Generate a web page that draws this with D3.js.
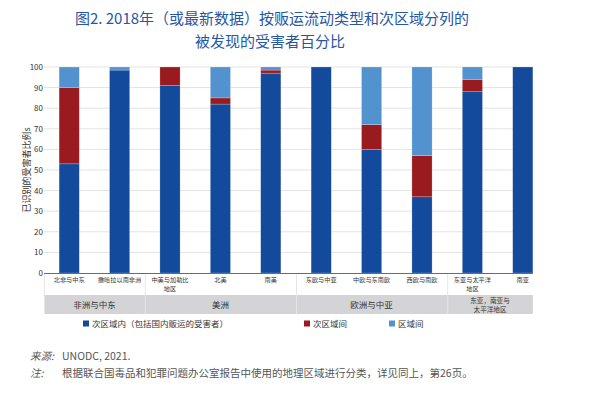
<!DOCTYPE html>
<html>
<head>
<meta charset="utf-8">
<script src="https://cdn.jsdelivr.net/npm/d3@7"></script>
<style>
  body { margin: 0; background: #fff; }
  svg { font-family: "Noto Sans CJK SC", "Noto Sans", sans-serif; }
</style>
</head>
<body>
<main></main>
<script>
const width = 600;
const height = 393;

// values (percent of detected victims)
const categories = ['北非与中东', '撒哈拉以南非洲', '中美与加勒比\n地区', '北美', '南美',
                    '东欧与中亚', '中欧与东南欧', '西欧与南欧', '东亚与太平洋\n地区', '南亚'];
const intraSub = [53, 98.5, 91, 82, 97, 100, 60, 37, 88, 100];
const interSub = [37, 0, 9, 3, 1.5, 0, 12, 20, 6, 0];
const interReg = [10, 1.5, 0, 15, 1.5, 0, 28, 43, 6, 0];
const groups = [
  {name: '非洲与中东', from: 0, to: 1},
  {name: '美洲', from: 2, to: 4},
  {name: '欧洲与中亚', from: 5, to: 7},
  {name: '东亚，南亚与\n太平洋地区', from: 8, to: 9}
];
const seriesKeys = ['intraSub', 'interSub', 'interReg'];
const seriesNames = ['次区域内（包括国内贩运的受害者）', '次区域间', '区域间'];
const seriesColors = ['#134a9c', '#9a1b1f', '#5192cf'];
const yTicks = d3.range(0, 101, 10);

const rows = categories.map((c, i) => ({cat: c, intraSub: intraSub[i], interSub: interSub[i], interReg: interReg[i]}));

const svg = d3.select('main').append('svg')
  .attr('width', width)
  .attr('height', height);

// title
const title = svg.append('g').attr('fill', '#2757a3').attr('font-size', 15).attr('text-anchor', 'middle');
title.append('text').attr('x', 272).attr('y', 24).text('图2. 2018年（或最新数据）按贩运流动类型和次区域分列的');
title.append('text').attr('x', 270).attr('y', 47).text('被发现的受害者百分比');

const x = d3.scaleBand()
  .domain(categories)
  .range([44, 548])
  .paddingInner(0.6)
  .paddingOuter(0.3);

const y = d3.scaleLinear().domain([0, 100]).range([273, 67]);

const left = 44;
const right = x(categories[categories.length - 1]) + x.bandwidth();

// grid
svg.append('g').selectAll('line')
  .data(yTicks.filter(d => d > 0))
  .join('line')
  .attr('x1', left).attr('x2', right)
  .attr('y1', d => y(d)).attr('y2', d => y(d))
  .attr('stroke', '#e3e3e3').attr('stroke-width', 1);

// y tick labels
svg.append('g').selectAll('text')
  .data(yTicks)
  .join('text')
  .attr('x', 43).attr('y', d => y(d) + 3)
  .attr('text-anchor', 'end')
  .attr('font-size', 8)
  .attr('fill', '#333')
  .text(d => d);

// y title
svg.append('text')
  .attr('transform', `translate(30, ${(y(0) + y(100)) / 2}) rotate(-90)`)
  .attr('text-anchor', 'middle')
  .attr('font-size', 9)
  .attr('fill', '#333')
  .text('已识别的受害者比例s');

// bars
const stacked = d3.stack().keys(seriesKeys)(rows);
svg.append('g').selectAll('g')
  .data(stacked)
  .join('g')
  .attr('fill', (d, i) => seriesColors[i])
  .selectAll('rect')
  .data(d => d)
  .join('rect')
  .attr('x', d => x(d.data.cat))
  .attr('width', x.bandwidth())
  .attr('y', d => y(d[1]))
  .attr('height', d => y(d[0]) - y(d[1]))
  .attr('stroke', '#ffffff')
  .attr('stroke-opacity', 0.35)
  .attr('stroke-width', 0.6);

// category label row and group band
const rowTop = 273, rowBottom = 295, bandBottom = 314;
const step = x.step();
const edge = i => i === 0 ? left : (i >= categories.length ? right : left + i * step);

svg.append('rect')
  .attr('x', left).attr('y', rowBottom)
  .attr('width', right - left).attr('height', bandBottom - rowBottom)
  .attr('fill', '#d4d4d6');

const seps = [0].concat(groups.slice(1).map(g => g.from));
svg.append('g').selectAll('line')
  .data(seps)
  .join('line')
  .attr('x1', d => edge(d) + 0.5).attr('x2', d => edge(d) + 0.5)
  .attr('y1', rowTop).attr('y2', bandBottom)
  .attr('stroke', '#e6e6e6').attr('stroke-width', 1);

svg.append('line')
  .attr('x1', left).attr('x2', right)
  .attr('y1', y(0) + 0.5).attr('y2', y(0) + 0.5)
  .attr('stroke', '#6b6b6b').attr('stroke-width', 1);

svg.append('g').selectAll('text')
  .data(categories)
  .join('text')
  .attr('text-anchor', 'middle')
  .attr('font-size', 6.2)
  .attr('fill', '#333')
  .each(function(d) {
    const cx = x(d) + x.bandwidth() / 2;
    d3.select(this).selectAll('tspan')
      .data(d.split('\n'))
      .join('tspan')
      .attr('x', cx)
      .attr('y', (t, i) => 282 + i * 9.2)
      .text(t => t);
  });

svg.append('g').selectAll('text')
  .data(groups)
  .join('text')
  .attr('text-anchor', 'middle')
  .attr('fill', '#333')
  .each(function(g) {
    const cx = (edge(g.from) + edge(g.to + 1)) / 2;
    const lines = g.name.split('\n');
    d3.select(this)
      .attr('font-size', lines.length === 1 ? 8.5 : 6.6)
      .selectAll('tspan')
      .data(lines)
      .join('tspan')
      .attr('x', cx)
      .attr('y', (t, i) => lines.length === 1 ? 307.5 : 302.5 + i * 9.7)
      .text(t => t);
  });

// legend
const legendX = [83, 304, 389];
const legend = svg.append('g').selectAll('g')
  .data(seriesNames)
  .join('g')
  .attr('transform', (d, i) => `translate(${legendX[i]}, 324)`);
legend.append('rect')
  .attr('x', 0).attr('y', -3.5).attr('width', 6).attr('height', 6)
  .attr('fill', (d, i) => seriesColors[i]);
legend.append('text')
  .attr('x', 9).attr('y', 3)
  .attr('font-size', 8.5)
  .attr('fill', '#333')
  .text(d => d);

// source and note
const foot = svg.append('g').attr('font-size', 10.5).attr('fill', '#555');
foot.append('text').attr('x', 30).attr('y', 360).attr('font-style', 'italic').text('来源:');
foot.append('text').attr('x', 62).attr('y', 360).text('UNODC, 2021.');
foot.append('text').attr('x', 30).attr('y', 377).attr('font-style', 'italic').text('注:');
foot.append('text').attr('x', 62).attr('y', 377).text('根据联合国毒品和犯罪问题办公室报告中使用的地理区域进行分类，详见同上，第26页。');
</script>
</body>
</html>
